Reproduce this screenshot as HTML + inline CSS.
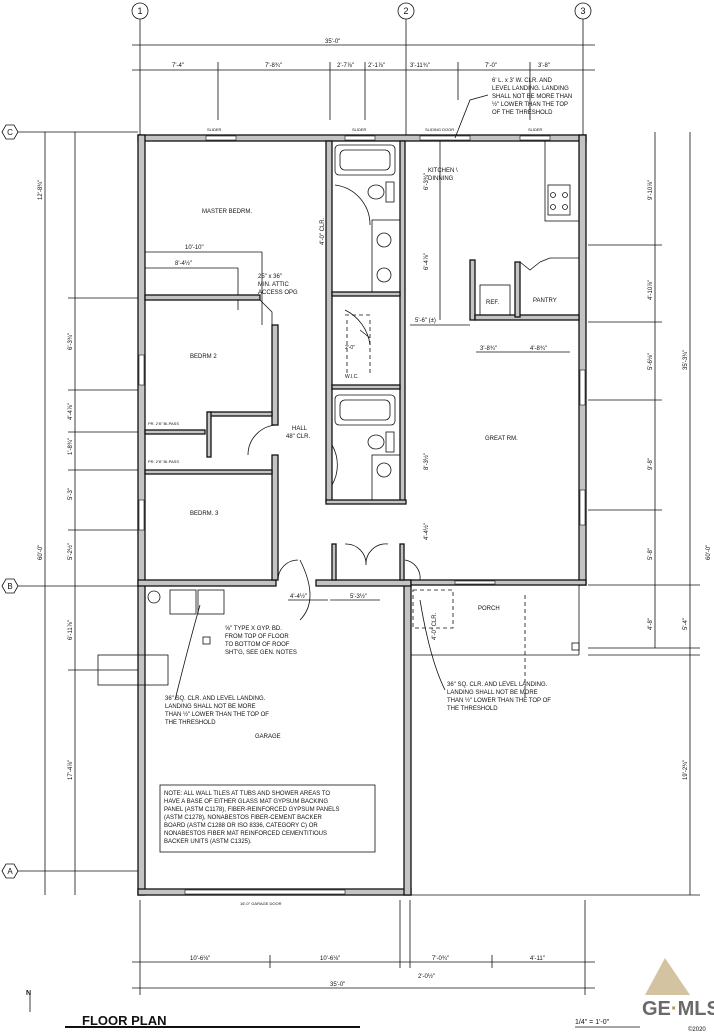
<!DOCTYPE html>
<html><head><meta charset="utf-8"><style>
html,body{margin:0;padding:0;background:#fff}
svg{display:block}
text{font-family:"Liberation Sans",sans-serif;font-size:6px;fill:#111}
.w{fill:#c4c4c4;stroke:#111;stroke-width:1.3}
.l{stroke:#111;stroke-width:0.8;fill:none}
.d{stroke:#111;stroke-width:0.8;stroke-dasharray:4 3;fill:none}
</style></head><body>
<svg width="714" height="1035" viewBox="0 0 714 1035" xmlns="http://www.w3.org/2000/svg">
<g class="l">
<circle cx="140" cy="11" r="8"/><circle cx="406" cy="11" r="8"/><circle cx="583" cy="11" r="8"/>
<line x1="140" y1="19" x2="140" y2="135"/><line x1="406" y1="19" x2="406" y2="135"/><line x1="583" y1="19" x2="583" y2="135"/>
<polygon points="2,132 6,125 14,125 18,132 14,139 6,139"/><polygon points="2,586 6,579 14,579 18,586 14,593 6,593"/><polygon points="2,871 6,864 14,864 18,871 14,878 6,878"/>
<line x1="18" y1="132" x2="138" y2="132"/><line x1="18" y1="586" x2="138" y2="586"/><line x1="18" y1="871" x2="138" y2="871"/>
<line x1="132" y1="45" x2="595" y2="45"/><line x1="132" y1="70" x2="595" y2="70"/>
<line x1="218" y1="62" x2="218" y2="120"/><line x1="330" y1="62" x2="330" y2="120"/><line x1="365" y1="62" x2="365" y2="120"/><line x1="458" y1="62" x2="458" y2="100"/><line x1="530" y1="62" x2="530" y2="120"/>
<line x1="45" y1="132" x2="45" y2="895"/><line x1="75" y1="132" x2="75" y2="895"/>
<line x1="68" y1="298" x2="138" y2="298"/><line x1="68" y1="390" x2="138" y2="390"/><line x1="68" y1="432" x2="138" y2="432"/><line x1="68" y1="470" x2="138" y2="470"/><line x1="68" y1="530" x2="138" y2="530"/><line x1="68" y1="670" x2="138" y2="670"/>
<line x1="655" y1="132" x2="655" y2="648"/><line x1="690" y1="132" x2="690" y2="895"/>
<line x1="588" y1="245" x2="662" y2="245"/><line x1="588" y1="322" x2="662" y2="322"/><line x1="588" y1="400" x2="662" y2="400"/><line x1="588" y1="510" x2="662" y2="510"/><line x1="588" y1="585" x2="700" y2="585"/><line x1="588" y1="648" x2="700" y2="648"/><line x1="588" y1="655" x2="700" y2="655"/><line x1="405" y1="895" x2="700" y2="895"/>
<line x1="132" y1="962" x2="595" y2="962"/><line x1="132" y1="988" x2="595" y2="988"/>
<line x1="140" y1="900" x2="140" y2="995"/><line x1="270" y1="955" x2="270" y2="968"/><line x1="400" y1="900" x2="400" y2="968"/><line x1="410" y1="900" x2="410" y2="968"/><line x1="492" y1="955" x2="492" y2="968"/><line x1="585" y1="900" x2="585" y2="995"/>
<line x1="145" y1="252" x2="262" y2="252"/><line x1="145" y1="268" x2="238" y2="268"/>
<line x1="288" y1="600" x2="328" y2="600"/><line x1="330" y1="600" x2="380" y2="600"/>
<line x1="476" y1="352" x2="520" y2="352"/><line x1="520" y1="352" x2="570" y2="352"/>
<line x1="410" y1="325" x2="470" y2="325"/>
<line x1="440" y1="140" x2="440" y2="320"/>
<line x1="262" y1="252" x2="262" y2="325"/>
<line x1="238" y1="268" x2="238" y2="310"/>
<line x1="65" y1="1027" x2="360" y2="1027" stroke-width="2"/><line x1="575" y1="1027" x2="640" y2="1027"/>
<line x1="30" y1="995" x2="30" y2="1012"/>
</g>
<g style="font-size:9px" text-anchor="middle">
<text x="140" y="14" style="font-size:9px">1</text><text x="406" y="14" style="font-size:9px">2</text><text x="583" y="14" style="font-size:9px">3</text>
<text x="10" y="135" style="font-size:8px">C</text><text x="10" y="589" style="font-size:8px">B</text><text x="10" y="874" style="font-size:8px">A</text>
</g>
<g class="w">
<rect x="138" y="135" width="448" height="6"/>
<rect x="138" y="135" width="7" height="760"/>
<rect x="579" y="135" width="7" height="450"/>
<rect x="138" y="889" width="273" height="6"/>
<rect x="404" y="580" width="7" height="315"/>
<rect x="138" y="580" width="138" height="6"/>
<rect x="316" y="580" width="95" height="6"/>
<rect x="411" y="580" width="175" height="5"/>
<rect x="326" y="141" width="6" height="360"/>
<rect x="400" y="141" width="5" height="360"/>
<rect x="272" y="325" width="6" height="100"/>
<rect x="272" y="455" width="6" height="125"/>
<rect x="145" y="295" width="115" height="5"/>
<rect x="145" y="430" width="60" height="4"/>
<rect x="208" y="412" width="64" height="4"/>
<rect x="145" y="470" width="127" height="4"/>
<rect x="207" y="412" width="4" height="45"/>
<rect x="332" y="385" width="68" height="4"/>
<rect x="332" y="292" width="68" height="4"/>
<rect x="470" y="260" width="5" height="60"/>
<rect x="475" y="315" width="104" height="5"/>
<rect x="515" y="262" width="5" height="55"/>
<rect x="326" y="500" width="80" height="4"/>
<rect x="332" y="544" width="4" height="36"/>
<rect x="400" y="544" width="4" height="36"/>
</g>
<polyline class="l" points="260,300 272,312 272,325" stroke-width="5" stroke="#333"/>
<g fill="#fff" stroke="#111" stroke-width="0.6">
<rect x="206" y="136" width="30" height="4"/><rect x="345" y="136" width="30" height="4"/><rect x="420" y="136" width="50" height="4"/><rect x="520" y="136" width="30" height="4"/>
<rect x="139" y="355" width="5" height="30"/><rect x="139" y="500" width="5" height="30"/><rect x="580" y="370" width="5" height="35"/><rect x="580" y="490" width="5" height="35"/>
<rect x="455" y="581" width="40" height="3"/><rect x="185" y="890" width="160" height="4"/>
</g>
<g class="l">
<rect x="335" y="145" width="60" height="30" rx="4"/><rect x="340" y="150" width="50" height="20" rx="5"/>
<rect x="335" y="395" width="60" height="30" rx="4"/><rect x="340" y="400" width="50" height="20" rx="5"/>
<ellipse cx="376" cy="192" rx="8" ry="7"/><rect x="386" y="182" width="8" height="20"/>
<ellipse cx="376" cy="442" rx="8" ry="7"/><rect x="386" y="432" width="8" height="20"/>
<circle cx="384" cy="240" r="7"/><circle cx="384" cy="275" r="7"/><rect x="372" y="220" width="28" height="72"/>
<circle cx="384" cy="470" r="7"/><rect x="372" y="455" width="28" height="45"/>
<rect x="545" y="141" width="34" height="80"/><rect x="548" y="185" width="22" height="30"/>
<circle cx="553" cy="195" r="2.5"/><circle cx="565" cy="195" r="2.5"/><circle cx="553" cy="207" r="2.5"/><circle cx="565" cy="207" r="2.5"/>
<rect x="480" y="285" width="30" height="30"/>
<rect x="170" y="590" width="26" height="24"/><rect x="198" y="590" width="26" height="24"/>
<circle cx="154" cy="597" r="6"/>
<rect x="98" y="655" width="70" height="30"/>
<path d="M278,425 A30,30 0 0 0 248,455"/><path d="M332,445 A40,40 0 0 1 332,485"/>
<path d="M345,544 A20,20 0 0 1 366,565 M388,544 A20,20 0 0 0 366,565"/>
<path d="M278,580 A20,20 0 0 1 298,560"/><path d="M405,560 A18,18 0 0 1 420,580"/>
<path d="M335,185 A40,40 0 0 1 370,225"/><path d="M345,310 A45,45 0 0 1 370,345"/>
<polyline points="540,262 550,258 579,258"/>
<polyline points="520,262 530,270 540,262"/>
<rect x="203" y="637" width="7" height="7"/><rect x="572" y="643" width="7" height="7"/>
</g>
<g class="d"><rect x="413" y="590" width="40" height="38"/><line x1="525" y1="595" x2="525" y2="700"/><line x1="345" y1="315" x2="370" y2="315"/><line x1="347" y1="320" x2="347" y2="375"/><line x1="370" y1="320" x2="370" y2="375"/></g>
<line x1="411" y1="655" x2="579" y2="655" class="l"/><line x1="579" y1="585" x2="579" y2="655" class="l"/>
<rect x="160" y="785" width="215" height="67" fill="none" stroke="#111" stroke-width="0.8"/>
<g class="l"><path d="M200,605 Q190,640 175,700"/><path d="M420,600 Q430,660 445,690"/><path d="M300,560 Q320,600 300,620"/><path d="M488,95 L470,100 L455,138"/><path d="M370,338 L360,330"/></g>
<g>
<text x="325" y="43">35'-0"</text>
<text x="172" y="67">7'-4"</text><text x="265" y="67">7'-8¾"</text><text x="337" y="67">2'-7⅞"</text><text x="368" y="67">2'-1⅞"</text><text x="410" y="67">3'-11¾"</text><text x="485" y="67">7'-0"</text><text x="538" y="67">3'-8"</text>
<text x="492" y="82">6' L. x 3' W. CLR. AND</text><text x="492" y="90">LEVEL LANDING. LANDING</text><text x="492" y="98">SHALL NOT BE MORE THAN</text><text x="492" y="106">½" LOWER THAN THE TOP</text><text x="492" y="114">OF THE THRESHOLD</text>
<text x="207" y="131" style="font-size:4px">SLIDER</text><text x="352" y="131" style="font-size:4px">SLIDER</text><text x="425" y="131" style="font-size:4px">SLIDING DOOR</text><text x="528" y="131" style="font-size:4px">SLIDER</text>
<text x="202" y="213">MASTER BEDRM.</text>
<text x="185" y="249">10'-10"</text><text x="175" y="265">8'-4½"</text>
<text x="258" y="278">25" x 36"</text><text x="258" y="286">MIN. ATTIC</text><text x="258" y="294">ACCESS OPG</text>
<text x="190" y="358">BEDRM 2</text>
<text x="292" y="430">HALL</text><text x="286" y="438">48" CLR.</text>
<text x="148" y="425" style="font-size:4px">PR. 2'8" BI-PASS</text><text x="148" y="463" style="font-size:4px">PR. 2'8" BI-PASS</text>
<text x="190" y="515">BEDRM. 3</text>
<text x="345" y="378" style="font-size:5px">W.I.C.</text><text x="345" y="349" style="font-size:5px">2'-0"</text>
<text x="428" y="172">KITCHEN \</text><text x="428" y="180">DINNING</text>
<text x="486" y="304">REF.</text><text x="533" y="302">PANTRY</text>
<text x="415" y="322">5'-6" (±)</text>
<text x="480" y="350">3'-8¾"</text><text x="530" y="350">4'-8¾"</text>
<text x="485" y="440">GREAT RM.</text>
<text x="478" y="610">PORCH</text>
<text x="290" y="598">4'-4½"</text><text x="350" y="598">5'-3½"</text>
<text x="225" y="630">⅝" TYPE X GYP. BD.</text><text x="225" y="638">FROM TOP OF FLOOR</text><text x="225" y="646">TO BOTTOM OF ROOF</text><text x="225" y="654">SHT'G, SEE GEN. NOTES</text>
<text x="165" y="700">36" SQ. CLR. AND LEVEL LANDING.</text><text x="165" y="708">LANDING SHALL NOT BE MORE</text><text x="165" y="716">THAN ½" LOWER THAN THE TOP OF</text><text x="165" y="724">THE THRESHOLD</text>
<text x="447" y="686">36" SQ. CLR. AND LEVEL LANDING.</text><text x="447" y="694">LANDING SHALL NOT BE MORE</text><text x="447" y="702">THAN ½" LOWER THAN THE TOP OF</text><text x="447" y="710">THE THRESHOLD</text>
<text x="255" y="738">GARAGE</text>
<text x="164" y="795">NOTE: ALL WALL TILES AT TUBS AND SHOWER AREAS TO</text><text x="164" y="803">HAVE A BASE OF EITHER GLASS MAT GYPSUM BACKING</text><text x="164" y="811">PANEL (ASTM C1178), FIBER-REINFORCED GYPSUM PANELS</text><text x="164" y="819">(ASTM C1278), NONABESTOS FIBER-CEMENT BACKER</text><text x="164" y="827">BOARD (ASTM C1288 OR ISO 8336, CATEGORY C) OR</text><text x="164" y="835">NONABESTOS FIBER MAT REINFORCED CEMENTITIOUS</text><text x="164" y="843">BACKER UNITS (ASTM C1325).</text>
<text x="240" y="905" style="font-size:4px">16'-0" GARAGE DOOR</text>
<text x="190" y="960">10'-6⅛"</text><text x="320" y="960">10'-6⅛"</text><text x="432" y="960">7'-0¾"</text><text x="530" y="960">4'-11"</text>
<text x="418" y="978">2'-0½"</text><text x="330" y="986">35'-0"</text>
<text x="82" y="1025" style="font-size:13px;font-weight:bold">FLOOR PLAN</text>
<text x="575" y="1024" style="font-size:7px">1/4" = 1'-0"</text>
<text x="26" y="995" style="font-size:7px;font-weight:bold">N</text>
<text x="642" y="1015" style="font-size:20px;font-weight:bold;fill:#6a6a6a">GE<tspan style="fill:#b09a60">·</tspan>MLS</text>
<text x="688" y="1031" style="font-size:6px">©2020</text>
</g>
<polygon points="645,995 665,958 690,995" fill="#c8b48a" opacity="0.8"/>
<g>
<text transform="translate(42,200) rotate(-90)">12'-8¾"</text><text transform="translate(72,350) rotate(-90)">6'-3¾"</text><text transform="translate(72,420) rotate(-90)">4'-4⅞"</text><text transform="translate(72,455) rotate(-90)">1'-8¾"</text><text transform="translate(72,500) rotate(-90)">5'-3"</text><text transform="translate(72,560) rotate(-90)">5'-2½"</text><text transform="translate(72,640) rotate(-90)">6'-11⅞"</text><text transform="translate(72,780) rotate(-90)">17'-4⅞"</text><text transform="translate(42,560) rotate(-90)">60'-0"</text>
<text transform="translate(652,200) rotate(-90)">9'-10⅞"</text><text transform="translate(652,300) rotate(-90)">4'-10⅞"</text><text transform="translate(652,370) rotate(-90)">5'-6⅛"</text><text transform="translate(652,470) rotate(-90)">9'-8"</text><text transform="translate(652,560) rotate(-90)">5'-8"</text><text transform="translate(652,630) rotate(-90)">4'-8"</text>
<text transform="translate(687,370) rotate(-90)">35'-3¾"</text><text transform="translate(687,630) rotate(-90)">5'-4"</text><text transform="translate(687,780) rotate(-90)">19'-2¾"</text><text transform="translate(710,560) rotate(-90)">60'-0"</text>
<text transform="translate(324,245) rotate(-90)">4'-0" CLR.</text><text transform="translate(436,640) rotate(-90)">4'-0" CLR.</text>
<text transform="translate(428,190) rotate(-90)">6'-3¾"</text><text transform="translate(428,270) rotate(-90)">6'-4⅞"</text><text transform="translate(428,470) rotate(-90)">8'-3½"</text><text transform="translate(428,540) rotate(-90)">4'-4½"</text>
</g>
</svg>
</body></html>
